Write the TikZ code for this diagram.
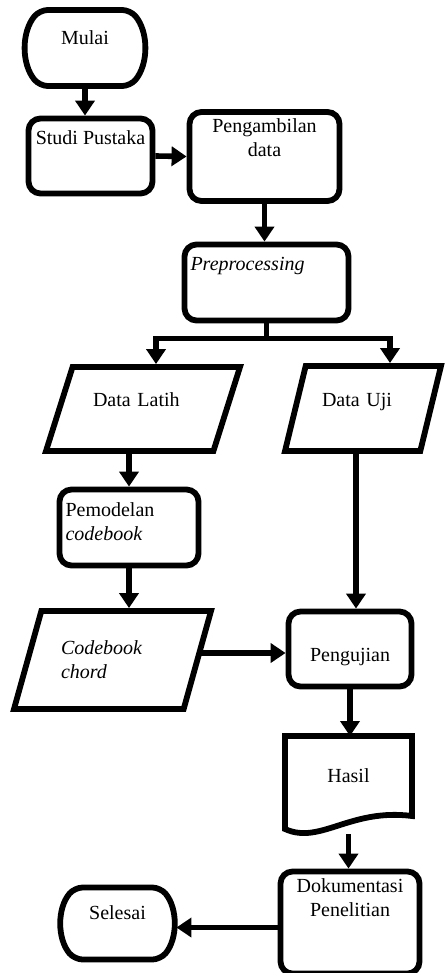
\documentclass[tikz,border=0pt]{standalone}
\usepackage{fontspec}
\setmainfont{Liberation Serif}
\usetikzlibrary{shapes.misc,shapes.geometric,arrows.meta}

\begin{document}
\begin{tikzpicture}[
    x=0.5pt, y=-0.5pt,
    every node/.style={font=\fontsize{10}{12}\selectfont},
    box/.style={draw, line width=2.9pt, rounded corners=6pt, align=center},
    term/.style={draw, line width=2.9pt, rounded rectangle, rounded rectangle arc length=80, rounded corners=4pt},
    data/.style={draw, line width=2.9pt, trapezium, trapezium stretches body, align=left},
    line/.style={line width=2.8pt},
    arr/.style={line, -{Triangle[width=9.5pt,length=7.5pt]}}
]
\useasboundingbox (0,0) rectangle (447,973);

\node[term, minimum width=55pt, minimum height=38pt, text depth=10.4pt] (mulai) at (85,48) {Mulai};
\node[box, minimum width=62pt, minimum height=37.5pt, text depth=18.4pt] (studi) at (90.5,156) {Studi Pustaka};
\node[box, minimum width=75pt, minimum height=38pt, text depth=18.9pt] (ambil) at (264.5,156.5) {Pengambilan\\data};
\node[box, minimum width=82pt, minimum height=38pt, text width=76pt, inner xsep=3pt, align=left, text depth=18.9pt] (pre) at (266.5,282.5) {\textit{Preprocessing}};

% data latih dan uji
\node[data, trapezium left angle=60, trapezium right angle=120, minimum width=97pt, minimum height=42pt, text width=50pt, text depth=9.4pt] (latih) at (143,409) {Data Latih};
\node[data, trapezium left angle=65, trapezium right angle=115, minimum width=78pt, minimum height=42.5pt, text width=41pt, text depth=8.9pt] (uji) at (363,408.5) {Data Uji};

\node[box, minimum width=69.5pt, minimum height=38pt, text width=63.5pt, inner xsep=3pt, align=left, text depth=18.4pt] (pem) at (129,527.5) {Pemodelan\\\textit{codebook}};
\node[data, trapezium left angle=62, trapezium right angle=118, minimum width=98.5pt, minimum height=49pt, text width=51.5pt] (cb) at (112.5,660) {\textit{Codebook}\\\textit{chord}};
\node[box, minimum width=61.5pt, minimum height=37.5pt, text height=15pt] (pgj) at (350,649) {Pengujian};

% dokumen hasil
\node[minimum width=63.5pt, minimum height=40pt, outer sep=0pt] (hasil) at (348.5,776) {Hasil};
\draw[line width=2.9pt] (hasil.north west) -- (hasil.north east) -- (hasil.south east)
    .. controls +(-62,-8) and +(35,16) .. ([yshift=-6.5pt]hasil.south west) -- cycle;

\node[box, minimum width=69.5pt, minimum height=45pt, text depth=25.4pt] (dok) at (350,922.5) {Dokumentasi\\Penelitian};
\node[term, minimum width=53pt, minimum height=36pt, text depth=10.9pt] (selesai) at (117.5,923.5) {Selesai};

\draw[arr] (mulai.south) -- (mulai.south |- studi.north);
\draw[arr] (studi.east) -- (ambil.west);
\draw[arr] (ambil.south) -- (ambil.south |- pre.north);
\draw[line] (pre.south) -- ++(0,15) coordinate (fork);
\draw[arr] (fork) -| ([xshift=6.5pt]latih.north);
\draw[arr] (fork) -| ([xshift=13.5pt]uji.north);
\draw[arr] (pem.north |- latih.south) -- (pem.north);
\draw[arr] (pem.south) -- (pem.south |- cb.north);
\draw[arr] ([xshift=3pt]pgj.north |- uji.south) -- ([xshift=3pt]pgj.north);
\draw[arr] (cb.east |- pgj.west) ++(0,4) -- ([yshift=-2pt]pgj.west);
\draw[arr] (pgj.south) -- (pgj.south |- hasil.north);
\draw[arr] ([yshift=-9pt]hasil.south) -- (hasil.south |- dok.north);
\draw[arr] ([yshift=-2.5pt]dok.west) -- ([yshift=-2.5pt]dok.west -| selesai.east);
\end{tikzpicture}
\end{document}
